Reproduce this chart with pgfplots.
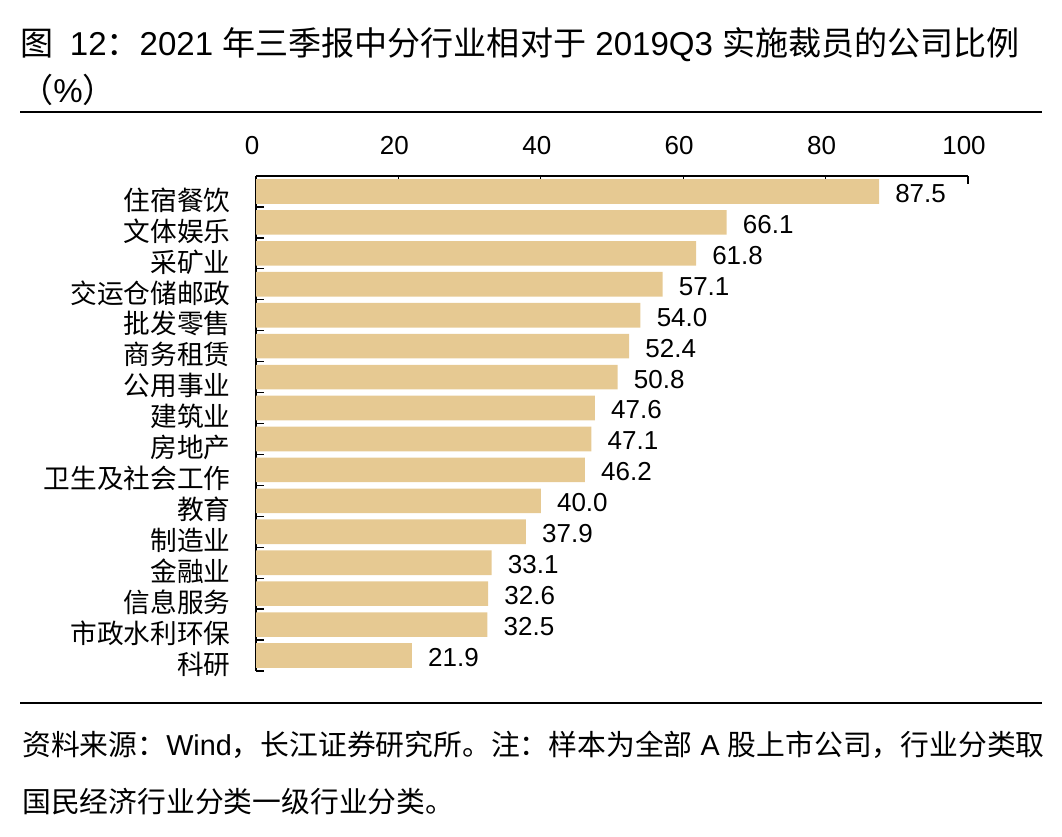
\documentclass[border=0pt]{standalone}
\usepackage{fontspec}
\setmainfont{Liberation Sans}
\newfontfamily\cjk{Noto Sans CJK SC}
\usepackage{pgfplots}
\pgfplotsset{compat=1.18}
\definecolor{barc}{HTML}{E6C992}

\begin{document}
\begin{tikzpicture}[x=0.75pt,y=0.75pt]
\path[use as bounding box] (0,0) rectangle (1062,836);

% title
\node[anchor=west,inner sep=0pt,font=\fontsize{24.8}{28}\selectfont] at (20,791)
  {{\cjk 图}\hspace{0.5em}12{\cjk ：}2021 {\cjk 年三季报中分行业相对于} 2019Q3 {\cjk 实施裁员的公司比例}};
\node[anchor=west,inner sep=0pt,font=\fontsize{24.8}{28}\selectfont] at (20,746)
  {{\cjk （}\%{\cjk ）}};
\draw[line width=2pt] (20,724) -- (1042,724);
\draw[line width=2pt] (20,133) -- (1042,133);

% footer
\node[anchor=west,inner sep=0pt,font=\fontsize{21.6}{24}\selectfont] at (22,91)
  {{\cjk 资料来源：}Wind{\cjk ，长江证券研究所。注：样本为全部} A {\cjk 股上市公司，行业分类取}};
\node[anchor=west,inner sep=0pt,font=\fontsize{21.6}{24}\selectfont\cjk] at (22,34)
  {国民经济行业分类一级行业分类。};

\begin{axis}[
    at={(192pt,123.75pt)}, anchor=south west,
    scale only axis, width=534pt, height=371.25pt,
    xbar, bar width=18.5pt,
    xmin=0, xmax=100,
    ymin=0.5, ymax=16.5, y dir=reverse,
    axis x line*=top, axis y line*=left,
    axis line style={-, line width=1pt},
    tick style={line width=1pt, black},
    tick align=inside,
    major tick length=6pt,
    xtick={0,20,...,100},
    ytick={0.5,1.5,...,16.5},
    y tick label as interval,
    yticklabels={住宿餐饮,文体娱乐,采矿业,交运仓储邮政,批发零售,商务租赁,公用事业,建筑业,房地产,卫生及社会工作,教育,制造业,金融业,信息服务,市政水利环保,科研},
    y tick label style={font=\cjk\fontsize{20}{22}\selectfont, anchor=east, inner sep=0pt, xshift=-19pt, yshift=-6.5pt},
    x tick label style={font=\fontsize{19.5}{22}\selectfont, anchor=south, inner sep=0pt, yshift=16pt, xshift=-3pt,
        /pgf/number format/assume math mode=true},
    point meta=explicit symbolic,
    nodes near coords,
    nodes near coords style={font=\fontsize{19.5}{22}\selectfont, anchor=west, inner sep=0pt, xshift=12pt, yshift=-1.5pt},
]
\addplot[fill=barc, draw=none] coordinates {
    (87.5,1) [87.5]
    (66.1,2) [66.1]
    (61.8,3) [61.8]
    (57.1,4) [57.1]
    (54.0,5) [54.0]
    (52.4,6) [52.4]
    (50.8,7) [50.8]
    (47.6,8) [47.6]
    (47.1,9) [47.1]
    (46.2,10) [46.2]
    (40.0,11) [40.0]
    (37.9,12) [37.9]
    (33.1,13) [33.1]
    (32.6,14) [32.6]
    (32.5,15) [32.5]
    (21.9,16) [21.9]
};
\end{axis}
\end{tikzpicture}
\end{document}
